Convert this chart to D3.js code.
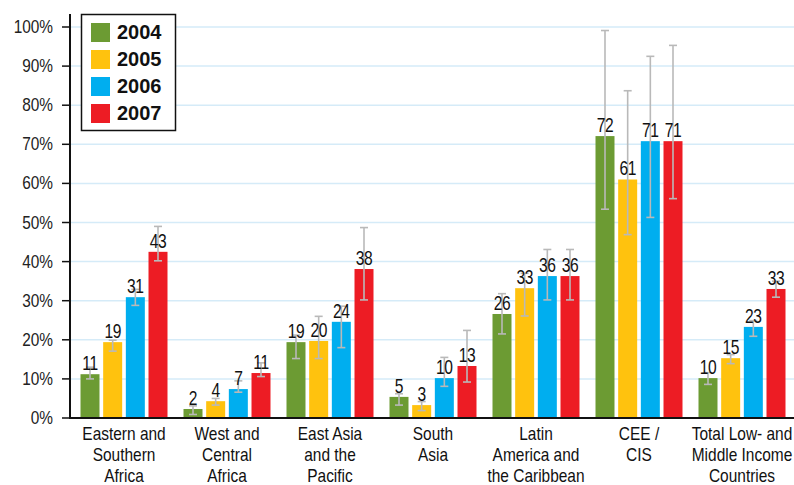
<!DOCTYPE html>
<html>
<head>
<meta charset="utf-8">
<title>Bar chart 2004-2007</title>
<script src="https://d3js.org/d3.v7.min.js"></script>
<style>
  body { margin: 0; background: #fff; }
  text { font-family: "Liberation Sans", Arial, sans-serif; }
</style>
</head>
<body>
<div id="viz"></div>
<script>
// data (percent)
const regions = [
  ["Eastern and", "Southern", "Africa"],
  ["West and", "Central", "Africa"],
  ["East Asia", "and the", "Pacific"],
  ["South", "Asia"],
  ["Latin", "America and", "the Caribbean"],
  ["CEE /", "CIS"],
  ["Total Low- and", "Middle Income", "Countries"]
];
const years = ["2004", "2005", "2006", "2007"];
const colors = ["#6c9b33", "#ffc20e", "#00aeef", "#ed1c24"];

const v2004 = [11.2, 2.3, 19.4, 5.4, 26.6, 72.1, 10.2];
const v2005 = [19.4, 4.3, 19.7, 3.3, 33.2, 61.0, 15.3];
const v2006 = [30.9, 7.4, 24.6, 10.2, 36.3, 70.8, 23.3];
const v2007 = [42.5, 11.5, 38.1, 13.3, 36.3, 70.8, 33.0];

const lab2004 = [11, 2, 19, 5, 26, 72, 10];
const lab2005 = [19, 4, 20, 3, 33, 61, 15];
const lab2006 = [31, 7, 24, 10, 36, 71, 23];
const lab2007 = [43, 11, 38, 13, 36, 71, 33];

// error bar ranges [low, high]
const err2004 = [[10.0, 13.0], [0.9, 3.1], [15.2, 21.2], [3.3, 6.2], [21.5, 31.8], [53.4, 99.1], [8.6, 11.6]];
const err2005 = [[17.1, 19.9], [3.3, 5.0], [15.2, 26.0], [1.9, 4.2], [26.1, 37.0], [46.9, 83.7], [13.9, 16.2]];
const err2006 = [[28.8, 32.9], [6.6, 9.5], [18.0, 28.6], [8.1, 15.5], [30.2, 43.1], [51.3, 92.5], [20.9, 24.9]];
const err2007 = [[40.2, 49.0], [10.6, 14.1], [30.2, 48.7], [9.2, 22.4], [30.2, 43.1], [56.1, 95.3], [30.9, 35.0]];

const yTicks = [0, 10, 20, 30, 40, 50, 60, 70, 80, 90, 100];

const values = [v2004, v2005, v2006, v2007];
const labels = [lab2004, lab2005, lab2006, lab2007];
const errs = [err2004, err2005, err2006, err2007];

const W = 794, H = 485;
const axisX = 70, baseY = 418;

const svg = d3.select("#viz").append("svg")
  .attr("width", W).attr("height", H);

// squeezed text, to stand in for the condensed face of the original
function narrowText(g, x, yy, str, size, sx, anchor) {
  return g.append("text")
    .attr("transform", `translate(${x},${yy}) scale(${sx},1)`)
    .attr("text-anchor", anchor || "middle")
    .attr("font-size", size)
    .text(str);
}

const y = d3.scaleLinear().domain([0, 100]).range([baseY, 27]);
const x0 = d3.scaleBand().domain(d3.range(regions.length)).range([72.5, 793.5]);
const x1 = d3.scaleBand().domain(years).range([-43.5, 43.5]).paddingInner(0.162);

// grid
svg.append("g").selectAll("line").data(yTicks.filter(t => t > 0)).enter()
  .append("line")
  .attr("x1", axisX).attr("x2", W)
  .attr("y1", d => y(d)).attr("y2", d => y(d))
  .attr("stroke", "#d5ebf8").attr("stroke-width", 1.5);

// bars
const flat = [];
regions.forEach((r, i) => {
  years.forEach((yr, j) => {
    flat.push({ i, j, yr, v: values[j][i], lab: labels[j][i], e: errs[j][i] });
  });
});
const cx = d => x0(d.i) + x0.bandwidth() / 2 + x1(d.yr);

svg.append("g").selectAll("rect").data(flat).enter()
  .append("rect")
  .attr("x", cx)
  .attr("width", x1.bandwidth())
  .attr("y", d => y(d.v))
  .attr("height", d => baseY - y(d.v))
  .attr("fill", d => colors[d.j]);

// error bars
const eb = svg.append("g").attr("stroke", "#b9b9b9").attr("stroke-width", 1.6).attr("fill", "none");
flat.forEach(d => {
  const mx = cx(d) + x1.bandwidth() / 2;
  eb.append("line").attr("x1", mx).attr("x2", mx).attr("y1", y(d.e[0])).attr("y2", y(d.e[1]));
  eb.append("line").attr("x1", mx - 4).attr("x2", mx + 4).attr("y1", y(d.e[0])).attr("y2", y(d.e[0]));
  eb.append("line").attr("x1", mx - 4).attr("x2", mx + 4).attr("y1", y(d.e[1])).attr("y2", y(d.e[1]));
});

// value labels
const vl = svg.append("g").attr("fill", "#111");
flat.forEach(d => {
  narrowText(vl, cx(d) + x1.bandwidth() / 2, y(d.v) - 4, d.lab, 20, 0.78)
    .style("letter-spacing", "-0.5px");
});

// y axis
svg.append("line").attr("x1", axisX).attr("x2", axisX).attr("y1", 14).attr("y2", baseY + 1)
  .attr("stroke", "#111").attr("stroke-width", 2);
const yt = svg.append("g").attr("fill", "#222");
yTicks.forEach(t => {
  yt.append("line").attr("x1", 62).attr("x2", axisX).attr("y1", y(t)).attr("y2", y(t))
    .attr("stroke", "#111").attr("stroke-width", 1.5);
  narrowText(yt, 53, y(t) + 6, t + "%", 17.5, 0.88, "end");
});

// x axis
svg.append("line").attr("x1", axisX - 1).attr("x2", W).attr("y1", baseY).attr("y2", baseY)
  .attr("stroke", "#111").attr("stroke-width", 2);
const xl = svg.append("g").attr("fill", "#111");
regions.forEach((r, i) => {
  r.forEach((line, k) => {
    narrowText(xl, x0(i) + x0.bandwidth() / 2, 440 + k * 21, line, 18, 0.86);
  });
});

// legend
const lg = svg.append("g");
lg.append("rect").attr("x", 81.5).attr("y", 14.5).attr("width", 94).attr("height", 116)
  .attr("fill", "#fff").attr("stroke", "#111").attr("stroke-width", 1.5);
years.forEach((yr, j) => {
  lg.append("rect").attr("x", 91).attr("y", 23 + j * 27).attr("width", 19).attr("height", 19)
    .attr("fill", colors[j]);
  lg.append("text").attr("x", 117).attr("y", 39 + j * 27)
    .attr("font-weight", "bold").attr("font-size", 20).attr("fill", "#111")
    .text(yr);
});
</script>
</body>
</html>
